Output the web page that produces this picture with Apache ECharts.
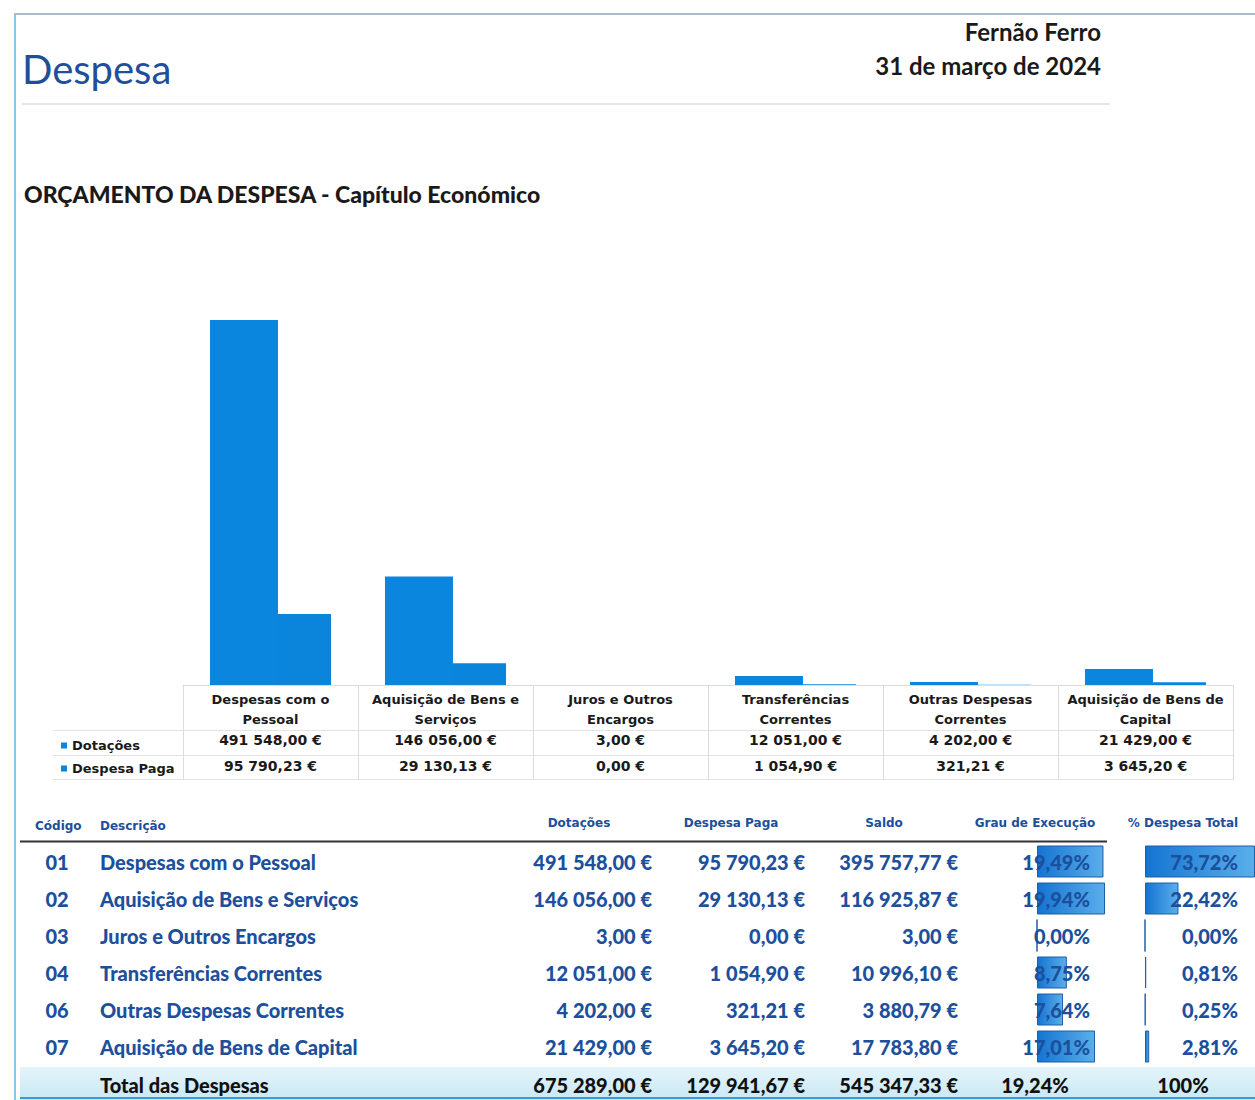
<!DOCTYPE html>
<html>
<head>
<meta charset="utf-8">
<title>Despesa - Orçamento da Despesa</title>
<script src="https://cdn.jsdelivr.net/npm/echarts@6/dist/echarts.min.js"></script>
<style>
    html, body { margin: 0; padding: 0; background: #fff; }
    #chart { width: 1255px; height: 1100px; }
</style>
</head>
<body>
<div id="chart"></div>
<script>
var codigos = ['01', '02', '03', '04', '06', '07'];
var categorias = ['Despesas com o Pessoal', 'Aquisição de Bens e Serviços', 'Juros e Outros Encargos',
    'Transferências Correntes', 'Outras Despesas Correntes', 'Aquisição de Bens de Capital'];
// rótulos da tabela do gráfico (duas linhas)
var rotulosEixo = ['Despesas com o\nPessoal', 'Aquisição de Bens e\nServiços', 'Juros e Outros\nEncargos',
    'Transferências\nCorrentes', 'Outras Despesas\nCorrentes', 'Aquisição de Bens de\nCapital'];
var dotacoes = [491548.00, 146056.00, 3.00, 12051.00, 4202.00, 21429.00];
var despesaPaga = [95790.23, 29130.13, 0.00, 1054.90, 321.21, 3645.20];
var saldo = [395757.77, 116925.87, 3.00, 10996.10, 3880.79, 17783.80];
var grauExecucao = [19.49, 19.94, 0.00, 8.75, 7.64, 17.01];
var pctDespesaTotal = [73.72, 22.42, 0.00, 0.81, 0.25, 2.81];
// linha de totais: dotações, despesa paga, saldo
var totalValores = [675289.00, 129941.67, 545347.33];
var totalGrau = 19.24;
var totalPct = 100;
var cabecalhos = ['Dotações', 'Despesa Paga', 'Saldo', 'Grau de Execução', '% Despesa Total'];

//formatar euros à portuguesa
function fmtEuro(v) {
    var p = v.toFixed(2).split('.');
    p[0] = p[0].replace(/\B(?=(\d{3})+(?!\d))/g, ' ');
    return p[0] + ',' + p[1] + ' €';
}
function fmtPct(v) {
    return v.toFixed(2).replace('.', ',') + '%';
}

var azul = '#1c4f9c';
var fonteTab = '900 20px Lato';
var fonteGraf = 'DejaVu Sans';

//texto simples para o graphic
function texto(t, x, y, font, cor, align) {
    return {
        type: 'text',
        style: {
            text: t, x: x, y: y, font: font, fill: cor,
            align: align || 'left', textAlign: align || 'left',
            verticalAlign: 'middle', textVerticalAlign: 'middle'
        },
        z: 10
    };
}
function linha(x1, y1, x2, y2, cor, w) {
    return {
        type: 'line',
        shape: { x1: x1, y1: y1, x2: x2, y2: y2 },
        style: { stroke: cor, lineWidth: w || 1 },
        z: 1
    };
}

var elementos = [];
//moldura da página
elementos.push(linha(14, 14, 1255, 14, '#a9bccd', 2));
elementos.push(linha(15, 14, 15, 1100, '#8cc3e8', 2));
//cabeçalho
elementos.push(texto('Despesa', 22, 69, '40px Lato', '#1f4e9a'));
elementos.push(texto('Fernão Ferro', 1101, 31, 'bold 24px Lato', '#1a1a1a', 'right'));
elementos.push(texto('31 de março de 2024', 1101, 65, 'bold 24px Lato', '#1a1a1a', 'right'));
elementos.push(linha(22, 104, 1110, 104, '#e6e6e6', 2));
elementos.push(texto('ORÇAMENTO DA DESPESA - Capítulo Económico', 24, 194, '900 23px Lato', '#1a1a1a'));

//linhas da tabela do gráfico na zona da legenda
elementos.push(linha(53, 730.5, 183, 730.5, '#e3e3e3'));
elementos.push(linha(53, 755.5, 183, 755.5, '#e3e3e3'));
elementos.push(linha(53, 779.5, 183, 779.5, '#e3e3e3'));

//tabela de baixo
var tabTop = 843, rowH = 37;
var xCols = [652, 805, 958, 1090, 1238];
var xCab = [579, 731, 884, 1035, 1183];
var fonteCab = 'bold 12px DejaVu Sans';
elementos.push(texto('Código', 35, 826, fonteCab, azul));
elementos.push(texto('Descrição', 100, 826, fonteCab, azul));
for (var c = 0; c < cabecalhos.length; c++) {
    elementos.push(texto(cabecalhos[c], xCab[c], 823, fonteCab, azul, 'center'));
}
elementos.push(linha(20, 841.5, 1107, 841.5, '#333', 2));

for (var i = 0; i < codigos.length; i++) {
    var y = tabTop + rowH * (i + 0.5);
    elementos.push(texto(codigos[i], 57, y, fonteTab, azul, 'center'));
    elementos.push(texto(categorias[i], 100, y, fonteTab, azul));
    elementos.push(texto(fmtEuro(dotacoes[i]), xCols[0], y, fonteTab, azul, 'right'));
    elementos.push(texto(fmtEuro(despesaPaga[i]), xCols[1], y, fonteTab, azul, 'right'));
    elementos.push(texto(fmtEuro(saldo[i]), xCols[2], y, fonteTab, azul, 'right'));
    elementos.push(texto(fmtPct(grauExecucao[i]), xCols[3], y, fonteTab, azul, 'right'));
    elementos.push(texto(fmtPct(pctDespesaTotal[i]), xCols[4], y, fonteTab, azul, 'right'));
}

//linha dos totais
elementos.push({
    type: 'rect',
    shape: { x: 20, y: 1067, width: 1235, height: 33 },
    style: {
        fill: new echarts.graphic.LinearGradient(0, 0, 0, 1, [
            { offset: 0, color: '#e4f4fa' },
            { offset: 1, color: '#c9e8f4' }
        ])
    },
    z: 0
});
elementos.push(linha(20, 1098, 1255, 1098, '#3b9bd8', 2));
var yTot = 1085;
elementos.push(texto('Total das Despesas', 100, yTot, fonteTab, '#111'));
for (var k = 0; k < totalValores.length; k++) {
    elementos.push(texto(fmtEuro(totalValores[k]), xCols[k], yTot, fonteTab, '#111', 'right'));
}
elementos.push(texto(fmtPct(totalGrau), xCab[3], yTot, fonteTab, '#111', 'center'));
elementos.push(texto(totalPct + '%', xCab[4], yTot, fonteTab, '#111', 'center'));

var corBarraDados = new echarts.graphic.LinearGradient(0, 0, 1, 0, [
    { offset: 0, color: '#1474d2' },
    { offset: 1, color: '#5aaeea' }
]);

//copia simples de objecto
function $extend(a, b) {
    var r = {}, key;
    for (key in a) r[key] = a[key];
    for (key in b) r[key] = b[key];
    return r;
}

var labelGraf = {
    interval: 0,
    fontFamily: fonteGraf,
    fontWeight: 'bold',
    fontSize: 13,
    color: '#1a1a1a'
};

var myChart = echarts.init(document.getElementById('chart'), null, { renderer: 'svg' });

var option = {
    animation: false,
    backgroundColor: '#fff',
    legend: {
        data: ['Dotações', 'Despesa Paga'],
        orient: 'vertical',
        left: 56,
        top: 734,
        icon: 'rect',
        itemWidth: 6,
        itemHeight: 6,
        itemGap: 10,
        textStyle: { fontFamily: fonteGraf, fontWeight: 'bold', fontSize: 13, color: '#1a1a1a' }
    },
    grid: [
        { left: 183, top: 239.5, width: 1050, height: 445.5, outerBoundsMode: 'none' },
        // barras de dados do grau de execução
        { left: 1037, top: tabTop, width: 68, height: rowH * 6, outerBoundsMode: 'none' },
        // barras de dados da % despesa total
        { left: 1145, top: tabTop, width: 110, height: rowH * 6, outerBoundsMode: 'none' }
    ],
    xAxis: [
        {
            type: 'category', gridIndex: 0, data: rotulosEixo,
            axisLine: { show: true, lineStyle: { color: '#dcdcdc' } },
            axisTick: { show: true, length: 95, lineStyle: { color: '#dcdcdc' } },
            axisLabel: $extend(labelGraf, { margin: 4, lineHeight: 20 })
        },
        {
            type: 'category', gridIndex: 0, position: 'bottom', offset: 45, data: dotacoes.map(fmtEuro),
            axisLine: { show: true, lineStyle: { color: '#e3e3e3' } },
            axisTick: { show: false },
            axisLabel: $extend(labelGraf, { margin: 3, fontSize: 14 })
        },
        {
            type: 'category', gridIndex: 0, position: 'bottom', offset: 70, data: despesaPaga.map(fmtEuro),
            axisLine: { show: true, lineStyle: { color: '#e3e3e3' } },
            axisTick: { show: false },
            axisLabel: $extend(labelGraf, { margin: 4, fontSize: 14 })
        },
        {
            type: 'category', gridIndex: 0, position: 'bottom', offset: 94, data: codigos,
            axisLine: { show: true, lineStyle: { color: '#e3e3e3' } },
            axisTick: { show: false },
            axisLabel: { show: false }
        },
        { type: 'value', gridIndex: 1, min: 0, max: 'dataMax', show: false },
        { type: 'value', gridIndex: 2, min: 0, max: 'dataMax', show: false }
    ],
    yAxis: [
        { type: 'value', gridIndex: 0, min: 0, max: 600000, show: false },
        { type: 'category', gridIndex: 1, data: codigos, inverse: true, show: false },
        { type: 'category', gridIndex: 2, data: codigos, inverse: true, show: false }
    ],
    series: [
        {
            name: 'Dotações',
            type: 'bar',
            xAxisIndex: 0, yAxisIndex: 0,
            data: dotacoes,
            barWidth: 68,
            barGap: '-22%',
            z: 3,
            itemStyle: { color: '#0A86DF' }
        },
        {
            name: 'Despesa Paga',
            type: 'bar',
            xAxisIndex: 0, yAxisIndex: 0,
            data: despesaPaga,
            barWidth: 68,
            z: 2,
            itemStyle: { color: '#0B84DC' }
        },
        {
            name: 'Grau de Execução',
            type: 'bar',
            xAxisIndex: 4, yAxisIndex: 1,
            data: grauExecucao,
            barWidth: 32,
            z: 1,
            itemStyle: { color: corBarraDados, borderColor: '#1f5fa6', borderWidth: 1 }
        },
        {
            name: '% Despesa Total',
            type: 'bar',
            xAxisIndex: 5, yAxisIndex: 2,
            data: pctDespesaTotal,
            barWidth: 32,
            z: 1,
            itemStyle: { color: corBarraDados, borderColor: '#1f5fa6', borderWidth: 1 }
        }
    ],
    graphic: { elements: elementos }
};

myChart.setOption(option);
</script>
</body>
</html>
